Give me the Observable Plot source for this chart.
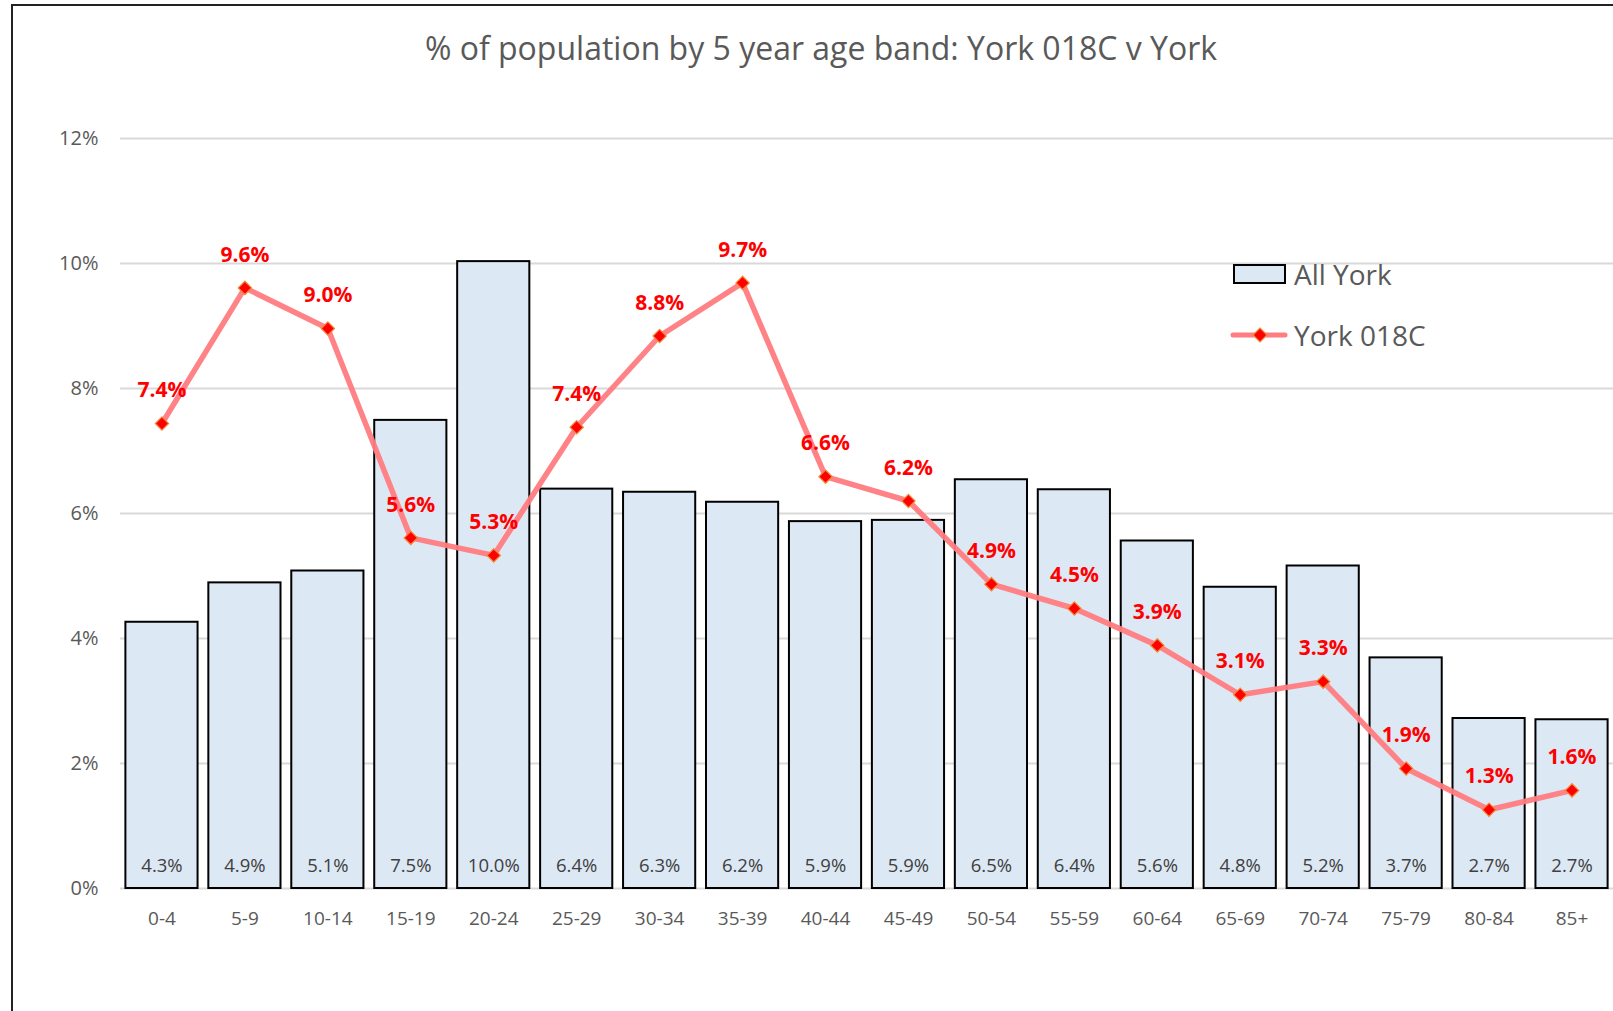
<!DOCTYPE html>
<html>
<head>
<meta charset="utf-8">
<script src="https://cdn.jsdelivr.net/npm/d3@7"></script>
<script src="https://cdn.jsdelivr.net/npm/@observablehq/plot@0.6"></script>
<style>
  html, body { margin: 0; padding: 0; background: #fff; }
  #wrap { position: relative; width: 1613px; height: 1011px; overflow: hidden; font-family: "Open Sans", sans-serif; }
  #frame { position: absolute; left: 11px; top: 4px; width: 1700px; height: 1100px; border-left: 2px solid #222; border-top: 2px solid #222; pointer-events: none; }
  #title { position: absolute; left: 0; top: 0; width: 1642px; height: 90px; line-height: 96px; text-align: center; font-size: 32px; color: #595959; }
  #chart { position: absolute; left: 0; top: 90px; }
  #legend { position: absolute; left: 1230px; top: 254px; font-size: 28px; color: #595959; }
  .lg { display: flex; align-items: center; height: 40px; margin-bottom: 21px; }
  .lg svg { margin-right: 6px; }
</style>
</head>
<body>
<div id="wrap">
  <div id="title">% of population by 5 year age band: York 018C v York</div>
  <div id="chart"></div>
  <div id="legend">
    <div class="lg"><svg width="58" height="24"><rect x="4" y="3" width="51" height="18" fill="#dde8f5" stroke="#000" stroke-width="2"/></svg><span>All York</span></div>
    <div class="lg"><svg width="58" height="24"><line x1="3" y1="12" x2="55" y2="12" stroke="#ff7c80" stroke-width="5" stroke-linecap="round"/><path d="M30,5 L37,12 L30,19 L23,12 Z" fill="#ff0000" stroke="#f08a3c" stroke-width="1.2"/></svg><span>York 018C</span></div>
  </div>
  <div id="frame"></div>
</div>
<script>
const ageBands = ["0-4","5-9","10-14","15-19","20-24","25-29","30-34","35-39","40-44","45-49","50-54","55-59","60-64","65-69","70-74","75-79","80-84","85+"];
const allYork = [4.26, 4.89, 5.08, 7.49, 10.03, 6.39, 6.34, 6.18, 5.87, 5.89, 6.54, 6.38, 5.56, 4.82, 5.16, 3.69, 2.72, 2.70];
const york018C = [7.44, 9.61, 8.96, 5.61, 5.33, 7.38, 8.84, 9.69, 6.59, 6.20, 4.87, 4.48, 3.89, 3.10, 3.31, 1.92, 1.26, 1.57];
const yTicks = [0, 2, 4, 6, 8, 10, 12];

const bars = ageBands.map((band, i) => ({band, value: allYork[i]}));
const line = ageBands.map((band, i) => ({band, value: york018C[i]}));
const fmt = v => v.toFixed(1) + "%";

const chart = Plot.plot({
  width: 1613,
  height: 921,
  marginTop: 48,
  marginBottom: 123,
  marginLeft: 120,
  marginRight: 0,
  style: {fontFamily: "'Open Sans', sans-serif", background: "transparent", overflow: "visible"},
  x: {domain: ageBands, paddingInner: 0.13, paddingOuter: 0.065, round: false, label: null},
  y: {domain: [0, 12], label: null},
  marks: [
    Plot.gridY(yTicks, {stroke: "#d9d9d9", strokeOpacity: 1, strokeWidth: 2}),
    Plot.barY(bars, {x: "band", y: "value", fill: "#dde8f5", stroke: "#000", strokeWidth: 2}),
    Plot.text(bars, {x: "band", y: 0, text: d => fmt(d.value), dy: -22, fill: "#404040", fontSize: 18.5}),
    Plot.lineY(line, {x: "band", y: "value", stroke: "#ff7c80", strokeWidth: 5.5, strokeOpacity: 0.95, strokeLinejoin: "round"}),
    Plot.dot(line, {x: "band", y: "value", symbol: "diamond2", r: 6, fill: "#ff0000", stroke: "#f08a3c", strokeWidth: 1.2}),
    Plot.text(line, {x: "band", y: "value", text: d => fmt(d.value), dy: -33, fill: "#ff0000", fontWeight: "bold", fontSize: 21}),
    Plot.axisX({tickSize: 0, tickPadding: 23, fontSize: 19, fill: "#595959"}),
    Plot.axisY(yTicks, {tickSize: 0, tickPadding: 22, fontSize: 20, fill: "#595959", tickFormat: d => d + "%"})
  ]
});
document.getElementById("chart").appendChild(chart);
</script>
</body>
</html>
